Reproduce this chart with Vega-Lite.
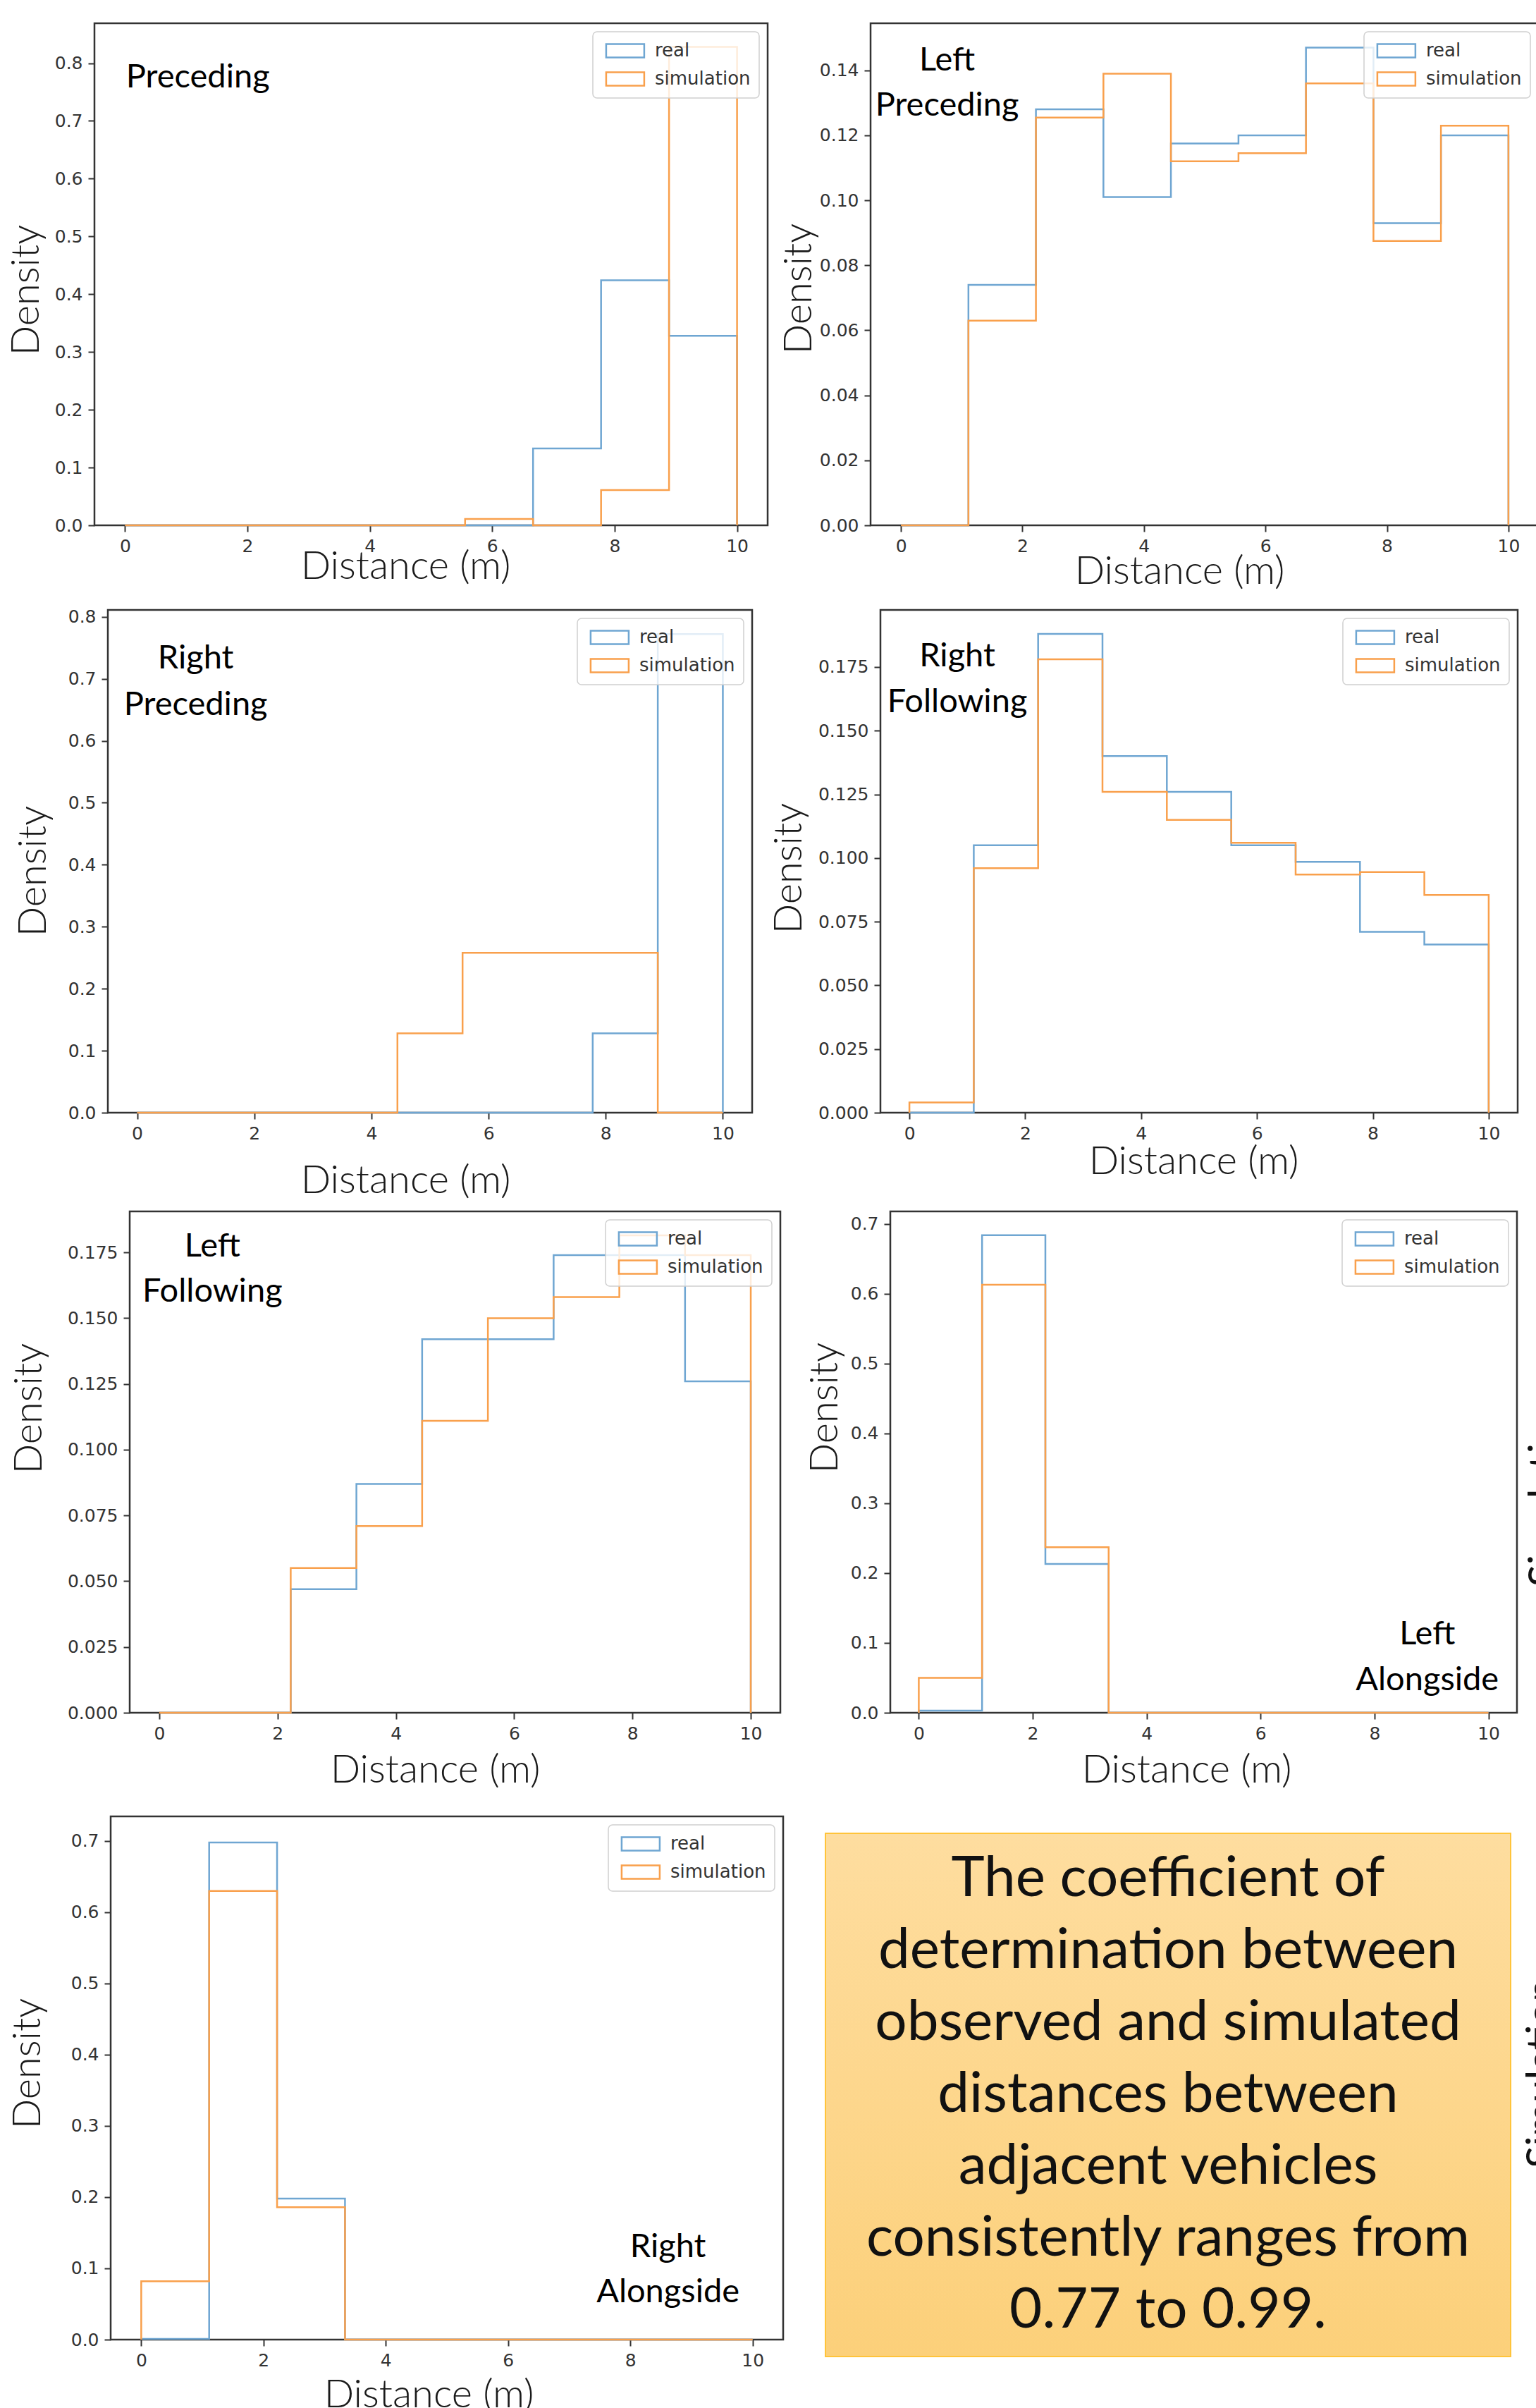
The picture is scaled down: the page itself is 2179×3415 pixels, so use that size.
{
"$schema":"https://vega.github.io/schema/vega-lite/v6.json",
"padding":{"left":0,"top":31,"right":0,"bottom":0},
"background":"white",
"spacing":0,
"resolve":{"scale":{"x":"independent","y":"independent","color":"independent"},"axis":{"x":"independent","y":"independent"},"legend":{"color":"independent"}},
"datasets":{"hist":[
{"p":"P","s":"real","i":0,"x":0,"d":0},{"p":"P","s":"real","i":1,"x":0,"d":0},{"p":"P","s":"real","i":2,"x":1.111,"d":0},{"p":"P","s":"real","i":3,"x":2.222,"d":0},{"p":"P","s":"real","i":4,"x":3.333,"d":0},{"p":"P","s":"real","i":5,"x":4.444,"d":0},{"p":"P","s":"real","i":6,"x":5.556,"d":0},{"p":"P","s":"real","i":7,"x":6.667,"d":0.133},{"p":"P","s":"real","i":8,"x":7.778,"d":0.424},{"p":"P","s":"real","i":9,"x":8.889,"d":0.328},{"p":"P","s":"real","i":10,"x":10,"d":0},
{"p":"P","s":"simulation","i":0,"x":0,"d":0},{"p":"P","s":"simulation","i":1,"x":0,"d":0},{"p":"P","s":"simulation","i":2,"x":1.111,"d":0},{"p":"P","s":"simulation","i":3,"x":2.222,"d":0},{"p":"P","s":"simulation","i":4,"x":3.333,"d":0},{"p":"P","s":"simulation","i":5,"x":4.444,"d":0},{"p":"P","s":"simulation","i":6,"x":5.556,"d":0.011},{"p":"P","s":"simulation","i":7,"x":6.667,"d":0},{"p":"P","s":"simulation","i":8,"x":7.778,"d":0.061},{"p":"P","s":"simulation","i":9,"x":8.889,"d":0.828},{"p":"P","s":"simulation","i":10,"x":10,"d":0},
{"p":"LP","s":"real","i":0,"x":0,"d":0},{"p":"LP","s":"real","i":1,"x":0,"d":0},{"p":"LP","s":"real","i":2,"x":1.111,"d":0.074},{"p":"LP","s":"real","i":3,"x":2.222,"d":0.128},{"p":"LP","s":"real","i":4,"x":3.333,"d":0.101},{"p":"LP","s":"real","i":5,"x":4.444,"d":0.1175},{"p":"LP","s":"real","i":6,"x":5.556,"d":0.12},{"p":"LP","s":"real","i":7,"x":6.667,"d":0.147},{"p":"LP","s":"real","i":8,"x":7.778,"d":0.093},{"p":"LP","s":"real","i":9,"x":8.889,"d":0.12},{"p":"LP","s":"real","i":10,"x":10,"d":0},
{"p":"LP","s":"simulation","i":0,"x":0,"d":0},{"p":"LP","s":"simulation","i":1,"x":0,"d":0},{"p":"LP","s":"simulation","i":2,"x":1.111,"d":0.063},{"p":"LP","s":"simulation","i":3,"x":2.222,"d":0.1255},{"p":"LP","s":"simulation","i":4,"x":3.333,"d":0.139},{"p":"LP","s":"simulation","i":5,"x":4.444,"d":0.112},{"p":"LP","s":"simulation","i":6,"x":5.556,"d":0.1145},{"p":"LP","s":"simulation","i":7,"x":6.667,"d":0.136},{"p":"LP","s":"simulation","i":8,"x":7.778,"d":0.0875},{"p":"LP","s":"simulation","i":9,"x":8.889,"d":0.123},{"p":"LP","s":"simulation","i":10,"x":10,"d":0},
{"p":"RP","s":"real","i":0,"x":0,"d":0},{"p":"RP","s":"real","i":1,"x":0,"d":0},{"p":"RP","s":"real","i":2,"x":1.111,"d":0},{"p":"RP","s":"real","i":3,"x":2.222,"d":0},{"p":"RP","s":"real","i":4,"x":3.333,"d":0},{"p":"RP","s":"real","i":5,"x":4.444,"d":0},{"p":"RP","s":"real","i":6,"x":5.556,"d":0},{"p":"RP","s":"real","i":7,"x":6.667,"d":0},{"p":"RP","s":"real","i":8,"x":7.778,"d":0.128},{"p":"RP","s":"real","i":9,"x":8.889,"d":0.772},{"p":"RP","s":"real","i":10,"x":10,"d":0},
{"p":"RP","s":"simulation","i":0,"x":0,"d":0},{"p":"RP","s":"simulation","i":1,"x":0,"d":0},{"p":"RP","s":"simulation","i":2,"x":1.111,"d":0},{"p":"RP","s":"simulation","i":3,"x":2.222,"d":0},{"p":"RP","s":"simulation","i":4,"x":3.333,"d":0},{"p":"RP","s":"simulation","i":5,"x":4.444,"d":0.128},{"p":"RP","s":"simulation","i":6,"x":5.556,"d":0.258},{"p":"RP","s":"simulation","i":7,"x":6.667,"d":0.258},{"p":"RP","s":"simulation","i":8,"x":7.778,"d":0.258},{"p":"RP","s":"simulation","i":9,"x":8.889,"d":0},{"p":"RP","s":"simulation","i":10,"x":10,"d":0},
{"p":"RF","s":"real","i":0,"x":0,"d":0},{"p":"RF","s":"real","i":1,"x":0,"d":0},{"p":"RF","s":"real","i":2,"x":1.111,"d":0.105},{"p":"RF","s":"real","i":3,"x":2.222,"d":0.188},{"p":"RF","s":"real","i":4,"x":3.333,"d":0.14},{"p":"RF","s":"real","i":5,"x":4.444,"d":0.126},{"p":"RF","s":"real","i":6,"x":5.556,"d":0.105},{"p":"RF","s":"real","i":7,"x":6.667,"d":0.0985},{"p":"RF","s":"real","i":8,"x":7.778,"d":0.071},{"p":"RF","s":"real","i":9,"x":8.889,"d":0.066},{"p":"RF","s":"real","i":10,"x":10,"d":0},
{"p":"RF","s":"simulation","i":0,"x":0,"d":0},{"p":"RF","s":"simulation","i":1,"x":0,"d":0.004},{"p":"RF","s":"simulation","i":2,"x":1.111,"d":0.096},{"p":"RF","s":"simulation","i":3,"x":2.222,"d":0.178},{"p":"RF","s":"simulation","i":4,"x":3.333,"d":0.126},{"p":"RF","s":"simulation","i":5,"x":4.444,"d":0.115},{"p":"RF","s":"simulation","i":6,"x":5.556,"d":0.106},{"p":"RF","s":"simulation","i":7,"x":6.667,"d":0.0935},{"p":"RF","s":"simulation","i":8,"x":7.778,"d":0.0945},{"p":"RF","s":"simulation","i":9,"x":8.889,"d":0.0855},{"p":"RF","s":"simulation","i":10,"x":10,"d":0},
{"p":"LF","s":"real","i":0,"x":0,"d":0},{"p":"LF","s":"real","i":1,"x":0,"d":0},{"p":"LF","s":"real","i":2,"x":1.111,"d":0},{"p":"LF","s":"real","i":3,"x":2.222,"d":0.047},{"p":"LF","s":"real","i":4,"x":3.333,"d":0.087},{"p":"LF","s":"real","i":5,"x":4.444,"d":0.142},{"p":"LF","s":"real","i":6,"x":5.556,"d":0.142},{"p":"LF","s":"real","i":7,"x":6.667,"d":0.174},{"p":"LF","s":"real","i":8,"x":7.778,"d":0.174},{"p":"LF","s":"real","i":9,"x":8.889,"d":0.126},{"p":"LF","s":"real","i":10,"x":10,"d":0},
{"p":"LF","s":"simulation","i":0,"x":0,"d":0},{"p":"LF","s":"simulation","i":1,"x":0,"d":0},{"p":"LF","s":"simulation","i":2,"x":1.111,"d":0},{"p":"LF","s":"simulation","i":3,"x":2.222,"d":0.055},{"p":"LF","s":"simulation","i":4,"x":3.333,"d":0.071},{"p":"LF","s":"simulation","i":5,"x":4.444,"d":0.111},{"p":"LF","s":"simulation","i":6,"x":5.556,"d":0.15},{"p":"LF","s":"simulation","i":7,"x":6.667,"d":0.158},{"p":"LF","s":"simulation","i":8,"x":7.778,"d":0.1815},{"p":"LF","s":"simulation","i":9,"x":8.889,"d":0.174},{"p":"LF","s":"simulation","i":10,"x":10,"d":0},
{"p":"LA","s":"real","i":0,"x":0,"d":0},{"p":"LA","s":"real","i":1,"x":0,"d":0.003},{"p":"LA","s":"real","i":2,"x":1.111,"d":0.684},{"p":"LA","s":"real","i":3,"x":2.222,"d":0.213},{"p":"LA","s":"real","i":4,"x":3.333,"d":0},{"p":"LA","s":"real","i":5,"x":4.444,"d":0},{"p":"LA","s":"real","i":6,"x":5.556,"d":0},{"p":"LA","s":"real","i":7,"x":6.667,"d":0},{"p":"LA","s":"real","i":8,"x":7.778,"d":0},{"p":"LA","s":"real","i":9,"x":8.889,"d":0},{"p":"LA","s":"real","i":10,"x":10,"d":0},
{"p":"LA","s":"simulation","i":0,"x":0,"d":0},{"p":"LA","s":"simulation","i":1,"x":0,"d":0.05},{"p":"LA","s":"simulation","i":2,"x":1.111,"d":0.613},{"p":"LA","s":"simulation","i":3,"x":2.222,"d":0.237},{"p":"LA","s":"simulation","i":4,"x":3.333,"d":0},{"p":"LA","s":"simulation","i":5,"x":4.444,"d":0},{"p":"LA","s":"simulation","i":6,"x":5.556,"d":0},{"p":"LA","s":"simulation","i":7,"x":6.667,"d":0},{"p":"LA","s":"simulation","i":8,"x":7.778,"d":0},{"p":"LA","s":"simulation","i":9,"x":8.889,"d":0},{"p":"LA","s":"simulation","i":10,"x":10,"d":0},
{"p":"RA","s":"real","i":0,"x":0,"d":0},{"p":"RA","s":"real","i":1,"x":0,"d":0.001},{"p":"RA","s":"real","i":2,"x":1.111,"d":0.698},{"p":"RA","s":"real","i":3,"x":2.222,"d":0.198},{"p":"RA","s":"real","i":4,"x":3.333,"d":0},{"p":"RA","s":"real","i":5,"x":4.444,"d":0},{"p":"RA","s":"real","i":6,"x":5.556,"d":0},{"p":"RA","s":"real","i":7,"x":6.667,"d":0},{"p":"RA","s":"real","i":8,"x":7.778,"d":0},{"p":"RA","s":"real","i":9,"x":8.889,"d":0},{"p":"RA","s":"real","i":10,"x":10,"d":0},
{"p":"RA","s":"simulation","i":0,"x":0,"d":0},{"p":"RA","s":"simulation","i":1,"x":0,"d":0.082},{"p":"RA","s":"simulation","i":2,"x":1.111,"d":0.63},{"p":"RA","s":"simulation","i":3,"x":2.222,"d":0.186},{"p":"RA","s":"simulation","i":4,"x":3.333,"d":0},{"p":"RA","s":"simulation","i":5,"x":4.444,"d":0},{"p":"RA","s":"simulation","i":6,"x":5.556,"d":0},{"p":"RA","s":"simulation","i":7,"x":6.667,"d":0},{"p":"RA","s":"simulation","i":8,"x":7.778,"d":0},{"p":"RA","s":"simulation","i":9,"x":8.889,"d":0},{"p":"RA","s":"simulation","i":10,"x":10,"d":0}
],
"one":[{}]},
"vconcat":[
{"spacing":0,"resolve":{"scale":{"x":"independent","y":"independent","color":"independent"},"axis":{"x":"independent","y":"independent"},"legend":{"color":"independent"}},
 "hconcat":[
  {"width":7,"height":10,"data":{"name":"one"},"view":{"stroke":null},"mark":{"type":"rect","opacity":0},"encoding":{"x":{"datum":0,"type":"quantitative","scale":{"domain":[0,1]},"axis":null},"x2":{"datum":1},"y":{"datum":0,"type":"quantitative","scale":{"domain":[0,1]},"axis":null},"y2":{"datum":1}}},
  {"width":955,"height":712,"data":{"name":"hist"},"transform":[{"filter":{"field":"p","equal":"P"}}],
   "layer":[
    {"mark":{"type":"line","interpolate":"step-after","strokeWidth":2.5},
     "encoding":{
      "x":{"field":"x","type":"quantitative","scale":{"domain":[-0.5,10.5],"nice":false,"zero":false},"axis":{"values":[0,2,4,6,8,10],"format":"d","title":"Distance (m)","titleX":441,"titleY":75}},
      "y":{"field":"d","type":"quantitative","scale":{"domain":[0,0.869],"nice":false},"axis":{"values":[0,0.1,0.2,0.3,0.4,0.5,0.6,0.7,0.8],"format":".1f","title":"Density","titleX":-124,"titleY":378}},
      "color":{"field":"s","type":"nominal","scale":{"domain":["real","simulation"],"range":["#6fa6d2","#f9a04c"]},"legend":{"title":null}},
      "order":{"field":"i","type":"quantitative"}}},
    {"data":{"name":"one"},"mark":{"type":"text","text":["Preceding"],"font":"Lato","fontSize":47,"align":"center","baseline":"alphabetic","lineHeight":64,"color":"#000"},
     "encoding":{"x":{"datum":1.19},"y":{"datum":0.758}}}
   ]},
  {"width":12,"height":10,"data":{"name":"one"},"view":{"stroke":null},"mark":{"type":"rect","opacity":0},"encoding":{"x":{"datum":0,"type":"quantitative","scale":{"domain":[0,1]},"axis":null},"x2":{"datum":1},"y":{"datum":0,"type":"quantitative","scale":{"domain":[0,1]},"axis":null},"y2":{"datum":1}}},
  {"width":948,"height":712,"data":{"name":"hist"},"transform":[{"filter":{"field":"p","equal":"LP"}}],
   "layer":[
    {"mark":{"type":"line","interpolate":"step-after","strokeWidth":2.5},
     "encoding":{
      "x":{"field":"x","type":"quantitative","scale":{"domain":[-0.5,10.5],"nice":false,"zero":false},"axis":{"values":[0,2,4,6,8,10],"format":"d","title":"Distance (m)","titleX":438,"titleY":82}},
      "y":{"field":"d","type":"quantitative","scale":{"domain":[0,0.1545],"nice":false},"axis":{"values":[0,0.02,0.04,0.06,0.08,0.1,0.12,0.14],"format":".2f","title":"Density","titleX":-129,"titleY":376}},
      "color":{"field":"s","type":"nominal","scale":{"domain":["real","simulation"],"range":["#6fa6d2","#f9a04c"]},"legend":{"title":null}},
      "order":{"field":"i","type":"quantitative"}}},
    {"data":{"name":"one"},"mark":{"type":"text","text":["Left","Preceding"],"font":"Lato","fontSize":47,"align":"center","baseline":"alphabetic","lineHeight":64,"color":"#000"},
     "encoding":{"x":{"datum":0.76},"y":{"datum":0.14}}}
   ]}
 ]},
{"width":10,"height":21,"data":{"name":"one"},"view":{"stroke":null},"mark":{"type":"rect","opacity":0},"encoding":{"x":{"datum":0,"type":"quantitative","scale":{"domain":[0,1]},"axis":null},"x2":{"datum":1},"y":{"datum":0,"type":"quantitative","scale":{"domain":[0,1]},"axis":null},"y2":{"datum":1}}},
{"spacing":0,"resolve":{"scale":{"x":"independent","y":"independent","color":"independent"},"axis":{"x":"independent","y":"independent"},"legend":{"color":"independent"}},
 "hconcat":[
  {"width":17,"height":10,"data":{"name":"one"},"view":{"stroke":null},"mark":{"type":"rect","opacity":0},"encoding":{"x":{"datum":0,"type":"quantitative","scale":{"domain":[0,1]},"axis":null},"x2":{"datum":1},"y":{"datum":0,"type":"quantitative","scale":{"domain":[0,1]},"axis":null},"y2":{"datum":1}}},
  {"width":914,"height":713,"data":{"name":"hist"},"transform":[{"filter":{"field":"p","equal":"RP"}}],
   "layer":[
    {"mark":{"type":"line","interpolate":"step-after","strokeWidth":2.5},
     "encoding":{
      "x":{"field":"x","type":"quantitative","scale":{"domain":[-0.5,10.5],"nice":false,"zero":false},"axis":{"values":[0,2,4,6,8,10],"format":"d","title":"Distance (m)","titleX":422,"titleY":113}},
      "y":{"field":"d","type":"quantitative","scale":{"domain":[0,0.811],"nice":false},"axis":{"values":[0,0.1,0.2,0.3,0.4,0.5,0.6,0.7,0.8],"format":".1f","title":"Density","titleX":-133,"titleY":370}},
      "color":{"field":"s","type":"nominal","scale":{"domain":["real","simulation"],"range":["#6fa6d2","#f9a04c"]},"legend":{"title":null}},
      "order":{"field":"i","type":"quantitative"}}},
    {"data":{"name":"one"},"mark":{"type":"text","text":["Right","Preceding"],"font":"Lato","fontSize":47,"align":"center","baseline":"alphabetic","lineHeight":66,"color":"#000"},
     "encoding":{"x":{"datum":1.0},"y":{"datum":0.717}}}
   ]},
  {"width":20,"height":10,"data":{"name":"one"},"view":{"stroke":null},"mark":{"type":"rect","opacity":0},"encoding":{"x":{"datum":0,"type":"quantitative","scale":{"domain":[0,1]},"axis":null},"x2":{"datum":1},"y":{"datum":0,"type":"quantitative","scale":{"domain":[0,1]},"axis":null},"y2":{"datum":1}}},
  {"width":904,"height":713,"data":{"name":"hist"},"transform":[{"filter":{"field":"p","equal":"RF"}}],
   "layer":[
    {"mark":{"type":"line","interpolate":"step-after","strokeWidth":2.5},
     "encoding":{
      "x":{"field":"x","type":"quantitative","scale":{"domain":[-0.5,10.5],"nice":false,"zero":false},"axis":{"values":[0,2,4,6,8,10],"format":"d","title":"Distance (m)","titleX":444,"titleY":86}},
      "y":{"field":"d","type":"quantitative","scale":{"domain":[0,0.1974],"nice":false},"axis":{"values":[0,0.025,0.05,0.075,0.1,0.125,0.15,0.175],"format":".3f","title":"Density","titleX":-157,"titleY":366}},
      "color":{"field":"s","type":"nominal","scale":{"domain":["real","simulation"],"range":["#6fa6d2","#f9a04c"]},"legend":{"title":null}},
      "order":{"field":"i","type":"quantitative"}}},
    {"data":{"name":"one"},"mark":{"type":"text","text":["Right","Following"],"font":"Lato","fontSize":47,"align":"center","baseline":"alphabetic","lineHeight":65,"color":"#000"},
     "encoding":{"x":{"datum":0.827},"y":{"datum":0.1753}}}
   ]}
 ]},
{"width":10,"height":12,"data":{"name":"one"},"view":{"stroke":null},"mark":{"type":"rect","opacity":0},"encoding":{"x":{"datum":0,"type":"quantitative","scale":{"domain":[0,1]},"axis":null},"x2":{"datum":1},"y":{"datum":0,"type":"quantitative","scale":{"domain":[0,1]},"axis":null},"y2":{"datum":1}}},
{"spacing":0,"resolve":{"scale":{"x":"independent","y":"independent","color":"independent"},"axis":{"x":"independent","y":"independent"},"legend":{"color":"independent"}},
 "hconcat":[
  {"width":11,"height":10,"data":{"name":"one"},"view":{"stroke":null},"mark":{"type":"rect","opacity":0},"encoding":{"x":{"datum":0,"type":"quantitative","scale":{"domain":[0,1]},"axis":null},"x2":{"datum":1},"y":{"datum":0,"type":"quantitative","scale":{"domain":[0,1]},"axis":null},"y2":{"datum":1}}},
  {"width":923,"height":711,"data":{"name":"hist"},"transform":[{"filter":{"field":"p","equal":"LF"}}],
   "layer":[
    {"mark":{"type":"line","interpolate":"step-after","strokeWidth":2.5},
     "encoding":{
      "x":{"field":"x","type":"quantitative","scale":{"domain":[-0.5,10.5],"nice":false,"zero":false},"axis":{"values":[0,2,4,6,8,10],"format":"d","title":"Distance (m)","titleX":433,"titleY":98}},
      "y":{"field":"d","type":"quantitative","scale":{"domain":[0,0.1906],"nice":false},"axis":{"values":[0,0.025,0.05,0.075,0.1,0.125,0.15,0.175],"format":".3f","title":"Density","titleX":-170,"titleY":279}},
      "color":{"field":"s","type":"nominal","scale":{"domain":["real","simulation"],"range":["#6fa6d2","#f9a04c"]},"legend":{"title":null}},
      "order":{"field":"i","type":"quantitative"}}},
    {"data":{"name":"one"},"mark":{"type":"text","text":["Left","Following"],"font":"Lato","fontSize":47,"align":"center","baseline":"alphabetic","lineHeight":64,"color":"#000"},
     "encoding":{"x":{"datum":0.898},"y":{"datum":0.1734}}}
   ]},
  {"width":31,"height":10,"data":{"name":"one"},"view":{"stroke":null},"mark":{"type":"rect","opacity":0},"encoding":{"x":{"datum":0,"type":"quantitative","scale":{"domain":[0,1]},"axis":null},"x2":{"datum":1},"y":{"datum":0,"type":"quantitative","scale":{"domain":[0,1]},"axis":null},"y2":{"datum":1}}},
  {"width":889,"height":711,"data":{"name":"hist"},"transform":[{"filter":{"field":"p","equal":"LA"}}],
   "layer":[
    {"mark":{"type":"line","interpolate":"step-after","strokeWidth":2.5},
     "encoding":{
      "x":{"field":"x","type":"quantitative","scale":{"domain":[-0.5,10.5],"nice":false,"zero":false},"axis":{"values":[0,2,4,6,8,10],"format":"d","title":"Distance (m)","titleX":420,"titleY":98}},
      "y":{"field":"d","type":"quantitative","scale":{"domain":[0,0.718],"nice":false},"axis":{"values":[0,0.1,0.2,0.3,0.4,0.5,0.6,0.7],"format":".1f","title":"Density","titleX":-120,"titleY":278}},
      "color":{"field":"s","type":"nominal","scale":{"domain":["real","simulation"],"range":["#6fa6d2","#f9a04c"]},"legend":{"title":null}},
      "order":{"field":"i","type":"quantitative"}}},
    {"data":{"name":"one"},"mark":{"type":"text","text":["Left","Alongside"],"font":"Lato","fontSize":47,"align":"center","baseline":"alphabetic","lineHeight":65,"color":"#000"},
     "encoding":{"x":{"datum":8.925},"y":{"datum":0.0981}}}
   ]},
  {"width":31,"height":711,"data":{"name":"one"},"view":{"stroke":null},"mark":{"type":"text","text":"Simulation","font":"Lato","fontSize":58,"angle":270,"align":"center","baseline":"top","clip":true,"color":"#111"},"encoding":{"x":{"datum":10,"type":"quantitative","scale":{"domain":[0,31]},"axis":null},"y":{"datum":0.44,"type":"quantitative","scale":{"domain":[0,1]},"axis":null}}}
 ]},
{"width":10,"height":34,"data":{"name":"one"},"view":{"stroke":null},"mark":{"type":"rect","opacity":0},"encoding":{"x":{"datum":0,"type":"quantitative","scale":{"domain":[0,1]},"axis":null},"x2":{"datum":1},"y":{"datum":0,"type":"quantitative","scale":{"domain":[0,1]},"axis":null},"y2":{"datum":1}}},
{"spacing":0,"resolve":{"scale":{"x":"independent","y":"independent","color":"independent"},"axis":{"x":"independent","y":"independent"},"legend":{"color":"independent"}},
 "hconcat":[
  {"width":9,"height":10,"data":{"name":"one"},"view":{"stroke":null},"mark":{"type":"rect","opacity":0},"encoding":{"x":{"datum":0,"type":"quantitative","scale":{"domain":[0,1]},"axis":null},"x2":{"datum":1},"y":{"datum":0,"type":"quantitative","scale":{"domain":[0,1]},"axis":null},"y2":{"datum":1}}},
  {"width":954,"height":742,"data":{"name":"hist"},"transform":[{"filter":{"field":"p","equal":"RA"}}],
   "layer":[
    {"mark":{"type":"line","interpolate":"step-after","strokeWidth":2.5},
     "encoding":{
      "x":{"field":"x","type":"quantitative","scale":{"domain":[-0.5,10.5],"nice":false,"zero":false},"axis":{"values":[0,2,4,6,8,10],"format":"d","title":"Distance (m)","titleX":451,"titleY":95}},
      "y":{"field":"d","type":"quantitative","scale":{"domain":[0,0.7346],"nice":false},"axis":{"values":[0,0.1,0.2,0.3,0.4,0.5,0.6,0.7],"format":".1f","title":"Density","titleX":-145,"titleY":350}},
      "color":{"field":"s","type":"nominal","scale":{"domain":["real","simulation"],"range":["#6fa6d2","#f9a04c"]},"legend":{"title":null}},
      "order":{"field":"i","type":"quantitative"}}},
    {"data":{"name":"one"},"mark":{"type":"text","text":["Right","Alongside"],"font":"Lato","fontSize":47,"align":"center","baseline":"alphabetic","lineHeight":64,"color":"#000"},
     "encoding":{"x":{"datum":8.616},"y":{"datum":0.1158}}}
   ]},
  {"width":57,"height":10,"data":{"name":"one"},"view":{"stroke":null},"mark":{"type":"rect","opacity":0},"encoding":{"x":{"datum":0,"type":"quantitative","scale":{"domain":[0,1]},"axis":null},"x2":{"datum":1},"y":{"datum":0,"type":"quantitative","scale":{"domain":[0,1]},"axis":null},"y2":{"datum":1}}},
  {"width":1011,"height":766,"data":{"name":"one"},"view":{"stroke":null},
   "layer":[
    {"mark":{"type":"rect","fill":{"gradient":"linear","x1":0,"y1":0,"x2":0,"y2":1,"stops":[{"offset":0,"color":"#fedd9f"},{"offset":1,"color":"#fcd07a"}]},"stroke":"#ffc43a","strokeWidth":2},
     "encoding":{"x":{"datum":0,"type":"quantitative","scale":{"domain":[0,1.0401],"nice":false,"zero":false},"axis":null},"x2":{"datum":1},"y":{"datum":0,"type":"quantitative","scale":{"domain":[0,1],"nice":false},"axis":null},"y2":{"datum":0.9687}}},
    {"mark":{"type":"text","text":["The coefficient of","determination between","observed and simulated","distances between","adjacent vehicles","consistently ranges from","0.77 to 0.99."],"font":"Lato","fontSize":80,"lineHeight":102,"align":"center","baseline":"alphabetic","color":"#111"},
     "encoding":{"x":{"datum":0.5},"y":{"datum":0.8525}}},
    {"mark":{"type":"text","text":"Simulation","font":"Lato","fontSize":58,"angle":270,"align":"center","baseline":"top","clip":true,"color":"#111"},
     "encoding":{"x":{"datum":1.0185},"y":{"datum":0.524}}}
   ]}
 ]}
],
"config":{
 "font":"Lato",
 "view":{"stroke":"#333333","strokeWidth":2.5},
 "axis":{"domain":false,"grid":false,"ticks":true,"tickColor":"#333333","tickSize":9,"tickWidth":2,"labelFont":"DejaVu Sans","labelFontSize":25,"labelColor":"#333333","labelPadding":8,"labelFlush":false,"labelOverlap":false,"titleFont":"Lato","titleFontSize":56,"titleFontWeight":300,"titleColor":"#1a1a1a"},
 "axisY":{"titleAngle":270,"titleBaseline":"top","titleAlign":"center"},
 "axisX":{"titleBaseline":"alphabetic","titleAlign":"center"},
 "legend":{"orient":"top-right","offset":12,"padding":12,"fillColor":"rgba(255,255,255,0.8)","strokeColor":"#d0d0d0","strokeWidth":1.5,"cornerRadius":6,"symbolType":"M-0.6,-0.7H3.4V0.7H-0.6Z","symbolSize":729,"symbolStrokeWidth":2.5,"symbolFillColor":"transparent","labelFont":"DejaVu Sans","labelFontSize":26,"labelColor":"#333333","labelOffset":46,"rowPadding":10}
}
}
